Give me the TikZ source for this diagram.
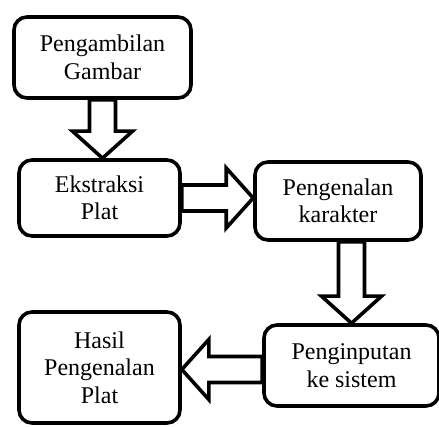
\documentclass[tikz,border=0pt]{standalone}
\usepackage{fontspec}
\setmainfont{Liberation Serif}
\usetikzlibrary{calc}

\tikzset{
  box/.style={draw, line width=3.6pt, rounded corners=13pt, inner sep=0pt,
    align=center, font=\fontsize{24}{27.5}\selectfont},
  fatarrow/.style={draw, line width=3.6pt, fill=white, line join=miter,
    to path={($(\tikztostart)!13pt!90:(\tikztotarget)$)
      -- ($(\tikztotarget)!27pt!(\tikztostart)!13pt!-90:(\tikztostart)$)
      -- ($(\tikztotarget)!27pt!(\tikztostart)!30pt!-90:(\tikztostart)$)
      -- (\tikztotarget)
      -- ($(\tikztotarget)!27pt!(\tikztostart)!30pt!90:(\tikztostart)$)
      -- ($(\tikztotarget)!27pt!(\tikztostart)!13pt!90:(\tikztostart)$)
      -- ($(\tikztostart)!13pt!-90:(\tikztotarget)$) -- cycle}}
}

\begin{document}
\begin{tikzpicture}[x=1pt,y=-1pt]
    \useasboundingbox(0,0)rectangle(439,427);
    % boxes
    \node[box, minimum width=177pt, minimum height=81pt](grab)at(102.5,57.5){Pengambilan\\Gambar};
    \node[box, minimum width=161pt, minimum height=76pt](ekstr)at(99.5,198){Ekstraksi\\Plat};
    \node[box, minimum width=166pt, minimum height=78pt](kar)at(338,201){Pengenalan\\karakter};
    \node[box, minimum width=175pt, minimum height=81pt](input)at(351.5,365.5){Penginputan\\ke sistem};
    \node[box, minimum width=161pt, minimum height=111pt](hasil)at(99.5,367.5){Hasil\\Pengenalan\\Plat};
    % arrows
    \coordinate(s3)at(input.north |- kar.south);
    \coordinate(s4)at([yshift=-4pt]input.west);
    \coordinate(e4)at(s4 -| hasil.east);
    \draw[fatarrow](grab.south)to(grab.south |- ekstr.north);
    \draw[fatarrow](ekstr.east)to(ekstr.east -| kar.west);
    \draw[fatarrow](s3)to(input.north);
    \draw[fatarrow](s4)to(e4);
\end{tikzpicture}
\end{document}
